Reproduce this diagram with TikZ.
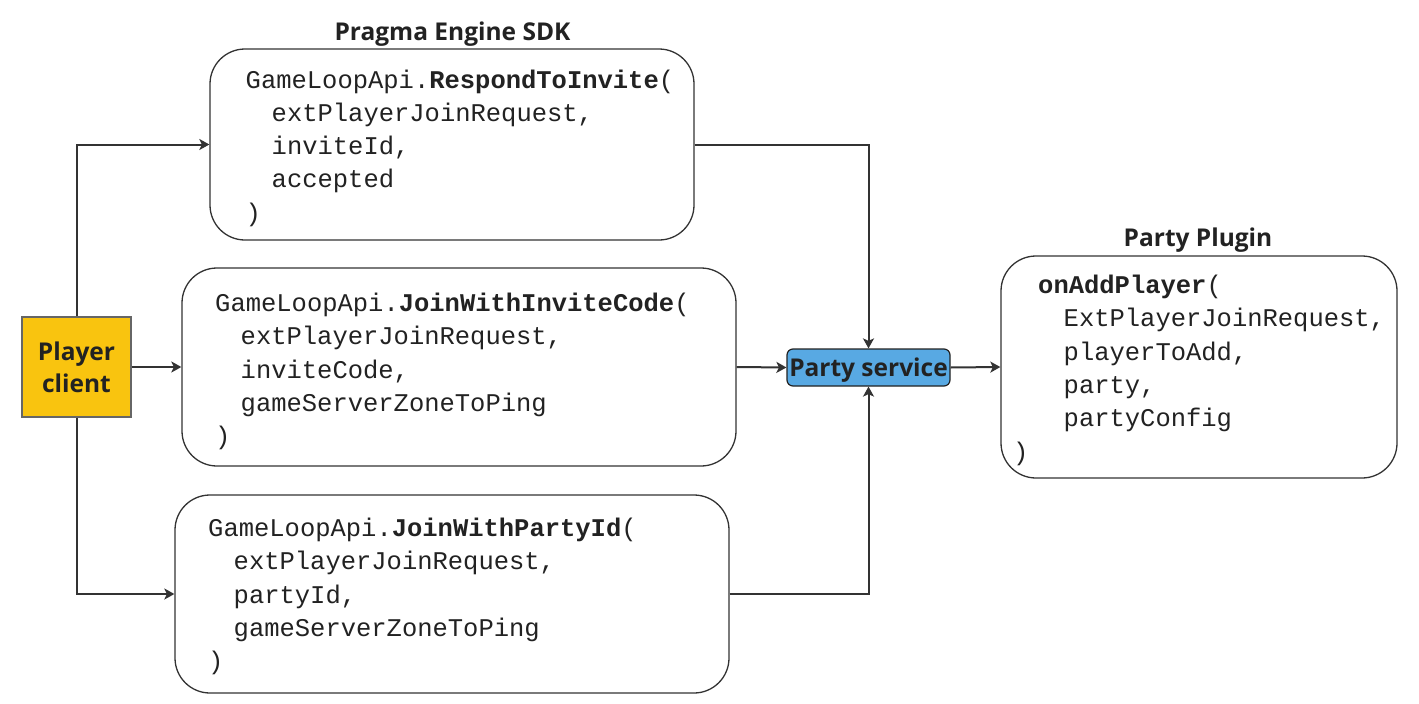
\documentclass[tikz,border=0pt]{standalone}
\usepackage{fontspec}
\setmainfont{Open Sans}
\newfontfamily\codefont{Liberation Mono}
\usetikzlibrary{arrows.meta}
\definecolor{pcyellow}{HTML}{F9C40F}
\definecolor{psblue}{HTML}{58A9E3}
\definecolor{linegray}{HTML}{333333}
\definecolor{txt}{HTML}{222222}
\begin{document}
\begin{tikzpicture}[x=1pt,y=-1pt,
  codebox/.style={draw=linegray, line width=1.3pt, rounded corners=35pt, fill=white, inner sep=0pt},
  code/.style={font=\codefont\fontsize{25.5}{30}\selectfont, anchor=base west, inner sep=0pt, text=txt},
  lbl/.style={font=\bfseries\fontsize{24.5}{32}\selectfont, text=txt, inner sep=0pt},
  conn/.style={draw=linegray, line width=2pt, -{Stealth[length=10pt,width=11pt,inset=2.5pt]}}
]
\useasboundingbox[fill=white] (0,0) rectangle (1419,704);

% boxes
\node[codebox, minimum width=484pt, minimum height=191pt] (b1) at (452,144.5) {};
\node[codebox, minimum width=554pt, minimum height=198pt] (b2) at (459,367) {};
\node[codebox, minimum width=554pt, minimum height=198pt] (b3) at (452,594) {};
\node[codebox, minimum width=396pt, minimum height=222pt] (pp) at (1199,367) {};
\node[draw=black!60, line width=1.3pt, fill=pcyellow, minimum width=109pt, minimum height=100pt,
      inner sep=0pt, align=center, font=\bfseries\fontsize{24.5}{32}\selectfont, text=txt] (pc) at (76.5,367) {Player\\client};
\node[draw=txt, line width=1.2pt, fill=psblue, rounded corners=6pt, minimum width=163pt, minimum height=37pt,
      inner sep=0pt, text height=21pt, text depth=4pt,
      font=\bfseries\fontsize{24.5}{30}\selectfont, text=txt] (ps) at (868.5,367.5) {Party service};

% titles
\node[lbl, anchor=base] (t1) at (452.5,40.7) {Pragma Engine SDK};
\node[lbl, anchor=base] (t2) at (1198,246) {Party Plugin};

% box 1 text
\node[code] (b1a) at (245.5,88) {GameLoopApi.{\bfseries RespondToInvite}(};
\node[code] (b1b) at (271.5,121.3) {extPlayerJoinRequest,};
\node[code] (b1c) at (271.5,154.6) {inviteId,};
\node[code] (b1d) at (271.5,187.9) {accepted};
\node[code] (b1e) at (245.5,221.2) {)};

% box 2 text
\node[code] (b2a) at (215,311.5) {GameLoopApi.{\bfseries JoinWithInviteCode}(};
\node[code] (b2b) at (240.5,344.8) {extPlayerJoinRequest,};
\node[code] (b2c) at (240.5,378.1) {inviteCode,};
\node[code] (b2d) at (240.5,411.4) {gameServerZoneToPing};
\node[code] (b2e) at (215,444.7) {)};

% box 3 text
\node[code] (b3a) at (208,536.5) {GameLoopApi.{\bfseries JoinWithPartyId}(};
\node[code] (b3b) at (233.5,569.8) {extPlayerJoinRequest,};
\node[code] (b3c) at (233.5,603.1) {partyId,};
\node[code] (b3d) at (233.5,636.4) {gameServerZoneToPing};
\node[code] (b3e) at (208,669.7) {)};

% plugin text
\node[code] (ppa) at (1038,293.5) {{\bfseries onAddPlayer}(};
\node[code] (ppb) at (1063.5,326.8) {ExtPlayerJoinRequest,};
\node[code] (ppc) at (1063.5,360.1) {playerToAdd,};
\node[code] (ppd) at (1063.5,393.4) {party,};
\node[code] (ppe) at (1063.5,426.7) {partyConfig};
\node[code] (ppf) at (1013,460) {)};

% connectors
\draw[conn] (pc.north) |- (b1.west);
\draw[conn] (pc.east) -- (b2.west);
\draw[conn] (pc.south) |- (b3.west);
\draw[conn] (b1.east) -| (ps.north);
\draw[conn] (b2.east) -- (ps.west);
\draw[conn] (b3.east) -| (ps.south);
\draw[conn] (ps.east) -- (pp.west);
\end{tikzpicture}
\end{document}
